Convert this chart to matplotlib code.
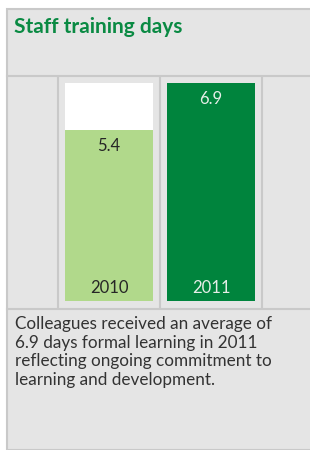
import matplotlib.pyplot as plt
from matplotlib.patches import Rectangle

years = ['2010', '2011']
days = [5.4, 6.9]
bar_colors = ['#b1d98b', '#00843d']
label_colors = ['#262626', '#e6eee8']

title = 'Staff training days'
caption = ('Colleagues received an average of\n'
           '6.9 days formal learning in 2011\n'
           'reflecting ongoing commitment to\n'
           'learning and development.')

W, H = 310, 450
plt.rcParams['font.family'] = ['Lato', 'DejaVu Sans']

fig = plt.figure(figsize=(W / 100, H / 100), dpi=100)
fig.patch.set_facecolor('white')

grey = '#e5e5e5'
line = '#c9c9c9'

# panel background with border
fig.patches.append(Rectangle((6.5 / W, 0), 1, 1 - 8.5 / H, transform=fig.transFigure,
                             facecolor=grey, edgecolor=line, linewidth=1.5, zorder=-5))

# bar chart axes (between header and caption)
top_px, bot_px = 76, 309
ax = fig.add_axes([7 / W, 1 - bot_px / H, 1 - 7 / W, (bot_px - top_px) / H])
ax.set_zorder(2)
x = list(range(len(years)))
ax.bar(x, [max(days)] * len(days), width=0.863, color='white', zorder=2)
ax.bar(x, days, width=0.863, color=bar_colors, zorder=3)
for xi, v, yr, c in zip(x, days, years, label_colors):
    ax.text(xi, v - 0.5, f'{v}', ha='center', va='center', fontsize=12,
            color=c, zorder=4)
    ax.text(xi, 0.4, yr, ha='center', va='center', fontsize=12,
            color=c, zorder=4)
for xv in [-0.5, 0.5, 1.5]:
    ax.axvline(xv, color=line, linewidth=1.5, zorder=1)
ax.set_xlim(-1.0, 1.97)
ax.set_ylim(-0.26, 7.12)
ax.axis('off')

# header and caption separators
fig.add_artist(plt.Line2D([7 / W, 1], [1 - top_px / H] * 2, color=line, linewidth=1.5))
fig.add_artist(plt.Line2D([7 / W, 1], [1 - bot_px / H] * 2, color=line, linewidth=1.5))

fig.text(14 / W, 1 - 33 / H, title, fontsize=15, fontweight='bold', color='#0a8a43')
fig.text(15 / W, 1 - 316 / H, caption, fontsize=12.3, color='#333333', va='top', linespacing=1.2)

fig.savefig('out.png', dpi=100, facecolor='white')
